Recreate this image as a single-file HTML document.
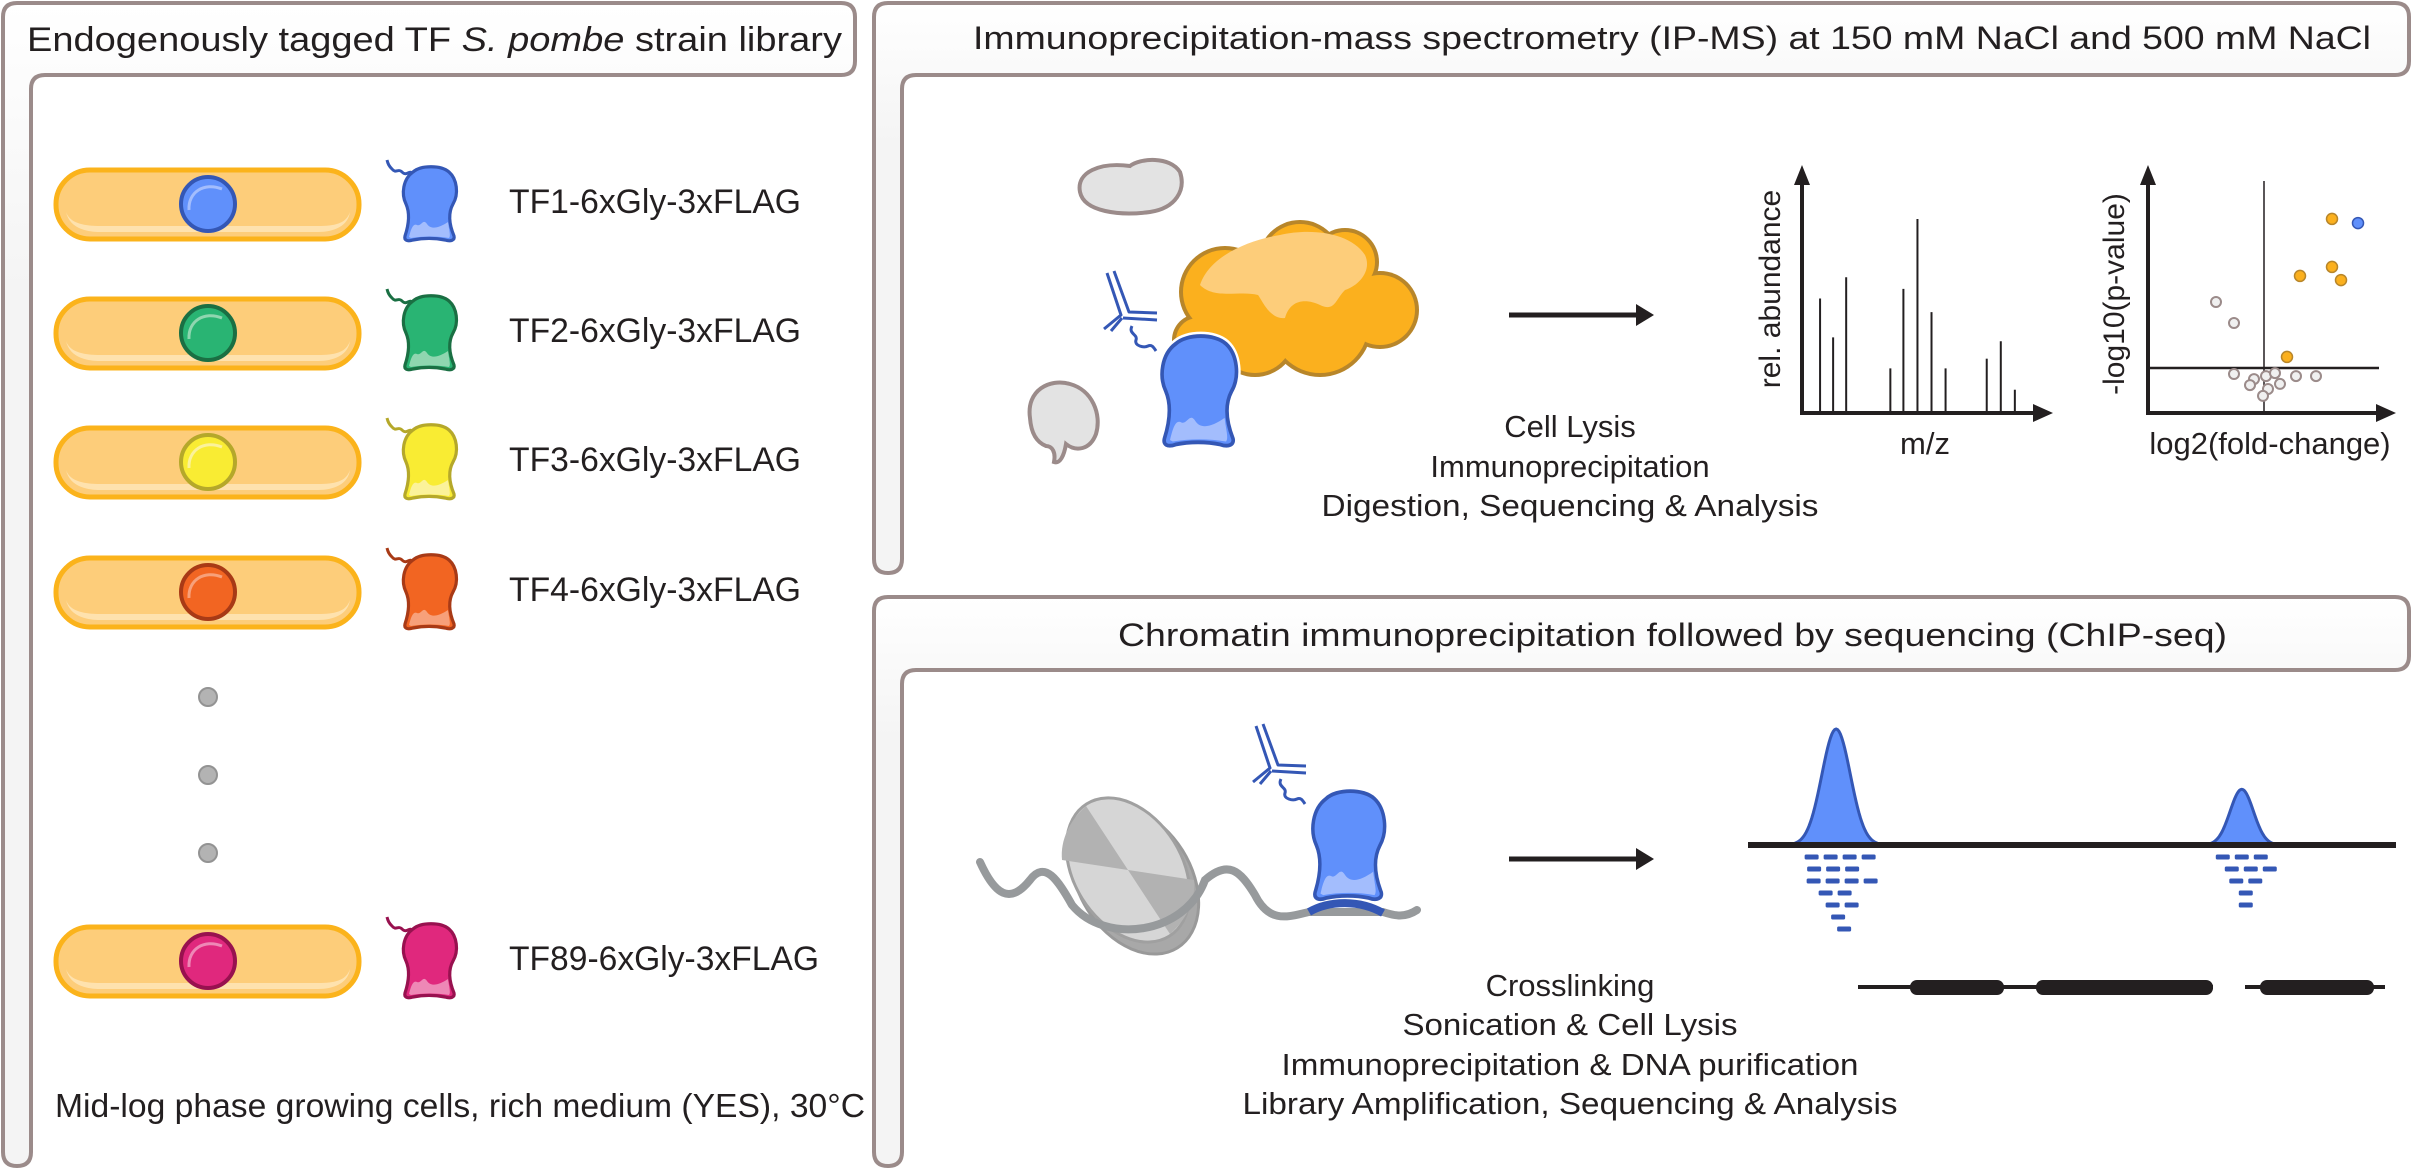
<!DOCTYPE html>
<html><head><meta charset="utf-8"><style>
html,body{margin:0;padding:0;background:#fff;}
svg{display:block;}
text{font-family:"Liberation Sans",Arial,sans-serif;fill:#231f20;}
</style></head><body>
<svg id="fig" width="2416" height="1171" viewBox="0 0 2416 1171" xmlns="http://www.w3.org/2000/svg">
<defs>
<linearGradient id="hdr" x1="0" y1="0" x2="0" y2="1"><stop offset="0" stop-color="#ffffff"/><stop offset="0.25" stop-color="#f4f4f4"/><stop offset="1" stop-color="#f4f4f4"/></linearGradient>
<path id="tfbody" d="M14,6 C22,-1 42,-1 50,6 C58,13 60,28 54,38 C49,47 50,58 55,70 C56,74 52,76 46,74 C36,72 24,72 14,74 C8,76 5,74 6,70 C10,58 11,47 7,38 C2,28 4,13 14,6 Z"/>
<path id="tfhl" d="M10,71 C12,63 14,57 18,59 C22,61 24,52 28,58 C32,64 40,62 49,56 C50,64 52,70 50,72 C38,70 24,70 12,72 Z"/>
<path id="tftail" d="M14,8 C10,3 8,11 3,6 C-1,2 -3,8 -7,3 C-10,0 -11,-2 -12,-6"/>
</defs>

<!-- Panels -->
<g>
<path d="M17,3 H841 Q855,3 855,17 V61 Q855,75 841,75 H45 Q31,75 31,89 V1152 Q31,1166 17,1166 Q3,1166 3,1152 V17 Q3,3 17,3 Z" fill="url(#hdr)" stroke="#9b8b8a" stroke-width="4"/>
<text x="27" y="51" font-size="34" textLength="815" lengthAdjust="spacingAndGlyphs">Endogenously tagged TF <tspan font-style="italic">S. pombe</tspan> strain library</text>
</g>
<g>
<path d="M888,3 H2395 Q2409,3 2409,17 V61 Q2409,75 2395,75 H916 Q902,75 902,89 V559 Q902,573 888,573 Q874,573 874,559 V17 Q874,3 888,3 Z" fill="url(#hdr)" stroke="#9b8b8a" stroke-width="4"/>
<text x="973" y="49" font-size="32" textLength="1398" lengthAdjust="spacingAndGlyphs">Immunoprecipitation-mass spectrometry (IP-MS) at 150 mM NaCl and 500 mM NaCl</text>
</g>
<g>
<path d="M888,597 H2395 Q2409,597 2409,611 V656 Q2409,670 2395,670 H916 Q902,670 902,684 V1152 Q902,1166 888,1166 Q874,1166 874,1152 V611 Q874,597 888,597 Z" fill="url(#hdr)" stroke="#9b8b8a" stroke-width="4"/>
<text x="1118" y="646" font-size="32" textLength="1109" lengthAdjust="spacingAndGlyphs">Chromatin immunoprecipitation followed by sequencing (ChIP-seq)</text>
</g>

<g id="cells"></g>
<g>
<circle cx="208" cy="697" r="9" fill="#b3b3b3" stroke="#939393" stroke-width="2"/>
<circle cx="208" cy="775" r="9" fill="#b3b3b3" stroke="#939393" stroke-width="2"/>
<circle cx="208" cy="853" r="9" fill="#b3b3b3" stroke="#939393" stroke-width="2"/>
</g>
<text x="55" y="1117" font-size="33" textLength="810" lengthAdjust="spacingAndGlyphs">Mid-log phase growing cells, rich medium (YES), 30°C</text>

<!-- IP-MS illustration -->
<g>
<g>
<path d="M1080,192 C1076,172 1100,162 1130,166 C1140,158 1170,156 1180,172 C1186,190 1176,208 1150,212 C1120,216 1084,212 1080,192 Z" fill="#e3e3e3" stroke="#9b8b8a" stroke-width="4"/>
</g>
<g>
<path d="M1030,418 C1026,390 1050,378 1070,384 C1092,390 1102,414 1096,434 C1090,450 1076,452 1066,444 C1064,456 1060,464 1054,462 C1056,452 1052,446 1046,446 C1036,442 1031,432 1030,418 Z" fill="#e3e3e3" stroke="#9b8b8a" stroke-width="4"/>
</g>
<g>
<g fill="#b8862a"><circle cx="1225" cy="292" r="46"/><circle cx="1300" cy="262" r="42"/><circle cx="1345" cy="262" r="34"/><circle cx="1380" cy="310" r="39"/><circle cx="1320" cy="325" r="52"/><circle cx="1255" cy="335" r="42"/><circle cx="1198" cy="340" r="26"/></g>
<g fill="#fbb01e"><circle cx="1225" cy="292" r="42"/><circle cx="1300" cy="262" r="38"/><circle cx="1345" cy="262" r="30"/><circle cx="1380" cy="310" r="35"/><circle cx="1320" cy="325" r="48"/><circle cx="1255" cy="335" r="38"/><circle cx="1198" cy="340" r="22"/></g>
<path d="M1200,285 C1210,255 1250,240 1280,235 C1310,228 1350,232 1365,255 C1372,270 1360,285 1345,290 C1335,300 1335,312 1320,305 C1305,298 1290,300 1285,318 C1270,320 1262,300 1258,295 C1240,290 1215,300 1200,285 Z" fill="#fdcd7a"/>
</g>
<g transform="translate(1156,335) scale(1.4,1.48)">
<use href="#tfbody" fill="none" stroke="#fff" stroke-width="6"/>
<use href="#tfbody" fill="#6090fb" stroke="#3457b5" stroke-width="2.6"/>
<use href="#tfhl" fill="#a3bdfd"/>
</g>
<g id="ab1"></g>
</g>
<g>
<line x1="1509" y1="315" x2="1640" y2="315" stroke="#231f20" stroke-width="5"/>
<polygon points="1654,315 1636,304 1636,326" fill="#231f20"/>
</g>
<g font-size="31" text-anchor="middle">
<text x="1570" y="437">Cell Lysis</text>
<text x="1570" y="477">Immunoprecipitation</text>
<text x="1570" y="516" textLength="497" lengthAdjust="spacingAndGlyphs">Digestion, Sequencing &amp; Analysis</text>
</g>

<g id="ms"></g>
<g id="volcano"></g>

<!-- ChIP illustration -->
<g>
<g>
<ellipse cx="1135" cy="880" rx="80" ry="56" transform="rotate(58 1135 880)" fill="#a8a8a8" stroke="#999" stroke-width="3"/>
<ellipse cx="1128" cy="870" rx="78" ry="54" transform="rotate(58 1128 870)" fill="#d6d6d6" stroke="#a0a0a0" stroke-width="3"/>
<path d="M1128,870 L1086,806 C1070,820 1060,840 1062,860 Z" fill="#b2b2b2"/>
<path d="M1128,870 L1170,934 C1186,920 1196,900 1194,880 Z" fill="#b2b2b2"/>
</g>
<path d="M980,862 C995,895 1010,905 1030,880 C1045,860 1058,880 1072,905 C1105,945 1185,935 1205,880 C1228,860 1240,870 1255,895 C1270,925 1290,916 1309,912 L1383,912 C1395,916 1405,918 1417,910" fill="none" stroke="#979a9c" stroke-width="8" stroke-linecap="round"/>
<path d="M1309,912 C1330,900 1360,900 1383,913" fill="none" stroke="#3457b5" stroke-width="8"/>
<g transform="translate(1307,790) scale(1.35,1.46)">
<use href="#tfbody" fill="#6090fb" stroke="#3457b5" stroke-width="2.6"/>
<use href="#tfhl" fill="#a3bdfd"/>
</g>
<g id="ab2"></g>
</g>
<g>
<line x1="1509" y1="859" x2="1640" y2="859" stroke="#231f20" stroke-width="5"/>
<polygon points="1654,859 1636,848 1636,870" fill="#231f20"/>
</g>
<g id="peaks"></g>
<g fill="#231f20">
<line x1="1858" y1="987" x2="2213" y2="987" stroke="#231f20" stroke-width="4"/>
<line x1="2245" y1="987" x2="2385" y2="987" stroke="#231f20" stroke-width="4"/>
<rect x="1910" y="980" width="94" height="15" rx="7"/>
<rect x="2036" y="980" width="177" height="15" rx="7"/>
<rect x="2260" y="980" width="114" height="15" rx="7"/>
</g>
<g font-size="31" text-anchor="middle">
<text x="1570" y="996">Crosslinking</text>
<text x="1570" y="1035" textLength="335" lengthAdjust="spacingAndGlyphs">Sonication &amp; Cell Lysis</text>
<text x="1570" y="1075" textLength="577" lengthAdjust="spacingAndGlyphs">Immunoprecipitation &amp; DNA purification</text>
<text x="1570" y="1114" textLength="655" lengthAdjust="spacingAndGlyphs">Library Amplification, Sequencing &amp; Analysis</text>
</g>
</svg>
<script>
// ---- strain library data ----
const strainLabels = ["TF1-6xGly-3xFLAG","TF2-6xGly-3xFLAG","TF3-6xGly-3xFLAG","TF4-6xGly-3xFLAG","TF89-6xGly-3xFLAG"];
const strainFill = ["#6090fb","#29b473","#f9ec33","#f26522","#e0287d"];
const strainStroke = ["#3457b5","#1a6f43","#b5a82a","#a83a16","#98114f"];
const strainLight = ["#a3bdfd","#8fd6b0","#fbf29a","#f7a07a","#ee88b6"];
// ---- mass spectrum data ----
const msMz = [18,31,44,88,101,115,129,143,184,198,212];
const msAbund = [59,39,70,23,64,100,52,23,28,37,12];
// ---- volcano data ----
const sigFC = [3.4,1.8,3.4,3.85,1.15];
const sigP = [6.47,4.57,4.87,4.43,1.87];
const baitFC = [4.7];
const baitP = [6.33];
const nsFC = [-2.4,-1.5,-1.5,-0.5,0.1,0.55,-0.7,0.8,1.6,2.6,0.2,-0.05];
const nsP = [3.7,3.0,1.3,1.13,1.23,1.33,0.93,0.97,1.23,1.23,0.8,0.57];
const pThreshold = [1.5];
// ---- ChIP data ----
const peakPos = [136,762];
const peakHeight = [100,48];
const peakWidth = [22,18];
const readRows1 = [4,3,4,2,2,1,1];
const readRows2 = [3,3,2,1,1];

const NS = "http://www.w3.org/2000/svg";
function mk(tag, attrs, parent){const e=document.createElementNS(NS,tag);for(const k in attrs)e.setAttribute(k,attrs[k]);if(parent)parent.appendChild(e);return e;}

// strains
const cells = document.getElementById("cells");
const rowY = [204,333,462,592,961];
strainLabels.forEach((lab,i)=>{
  const cy=rowY[i];
  const g=mk("g",{},cells);
  
  
  const cell=mk("rect",{x:56,y:cy-34,width:303,height:69,rx:34,fill:"#fdcd7a",stroke:"#fbb31b","stroke-width":5},g);
  
  
  mk("path",{d:`M66,${cy+8} C70,${cy+26} 90,${cy+28} 100,${cy+28} H318 C334,${cy+28} 348,${cy+22} 350,${cy+8} C346,${cy+20} 334,${cy+22} 318,${cy+22} H100 C86,${cy+22} 70,${cy+20} 66,${cy+8} Z`,fill:"#fee2ae"},g);
  const nuc=mk("circle",{cx:208,cy:cy,r:27,fill:strainFill[i],stroke:strainStroke[i],"stroke-width":4},g);
  
  
  mk("path",{d:`M189,${cy+6} C188,${cy-12} 204,${cy-22} 222,${cy-15}`,fill:"none",stroke:strainLight[i],"stroke-width":3},g);
  const tf=mk("g",{transform:`translate(399,${cy-38})`},g);
  
  
  mk("use",{href:"#tftail",fill:"none",stroke:strainStroke[i],"stroke-width":3},tf);
  mk("use",{href:"#tfbody",fill:strainFill[i],stroke:strainStroke[i],"stroke-width":3.2},tf);
  mk("use",{href:"#tfhl",fill:strainLight[i]},tf);
  const t=mk("text",{x:509,y:cy+9,"font-size":34,textLength:(i===4?310:292),lengthAdjust:"spacingAndGlyphs"},g);
  t.textContent=lab;
  
  
});

// antibodies
function antibody(id,x,y){
  const g=document.getElementById(id);
  const c="#3457b5";
  mk("path",{d:`M${x-3},${y+1} L${x+11},${y+43} L${x-6},${y+57} M${x+4},${y-1} L${x+19},${y+40} L${x+47},${y+41} M${x+13},${y+46} L${x+47},${y+48} M${x+12},${y+46} L${x+1},${y+59}`,fill:"none",stroke:c,"stroke-width":3,"stroke-linejoin":"round"},g);
  mk("path",{d:`M${x+22},${y+54} C${x+18},${y+62} ${x+28},${y+62} ${x+26},${y+68} C${x+24},${y+74} ${x+34},${y+76} ${x+38},${y+74} C${x+42},${y+72} ${x+44},${y+76} ${x+46},${y+79}`,fill:"none",stroke:c,"stroke-width":3},g);
}
antibody("ab1",1110,272);
antibody("ab2",1259,725);

// mass spectrum
(function(){
  const g=document.getElementById("ms");
  const x0=1802,y0=413,xTop=165,xEnd=2053;
  const xs=v=>x0+v*(251/250);
  const ys=v=>y0-v*1.94;
  msMz.forEach((m,i)=>{
    const l=mk("line",{x1:xs(m),x2:xs(m),y1:y0,y2:ys(msAbund[i]),stroke:"#231f20","stroke-width":2},g);
    
    
  });
  const ya=mk("line",{x1:x0,y1:y0+2,x2:x0,y2:xTop+14,stroke:"#231f20","stroke-width":4},g);
  
  
  mk("polygon",{points:`${x0},${xTop} ${x0-8},${xTop+20} ${x0+8},${xTop+20}`,fill:"#231f20"},g);
  const xa=mk("line",{x1:x0-2,y1:y0,x2:xEnd-14,y2:y0,stroke:"#231f20","stroke-width":4},g);
  
  
  mk("polygon",{points:`${xEnd},${y0} ${xEnd-20},${y0-9} ${xEnd-20},${y0+9}`,fill:"#231f20"},g);
  const yl=mk("text",{x:0,y:0,"font-size":30,"text-anchor":"middle",transform:`translate(1780,289) rotate(-90)`},g);
  yl.textContent="rel. abundance";
  
  
  const xl=mk("text",{x:1925,y:454,"font-size":31,"text-anchor":"middle"},g);
  xl.textContent="m/z";
  
  
})();

// volcano
(function(){
  const g=document.getElementById("volcano");
  const ax=2148,ay=413,top=165,end=2396,zx=2264;
  const xs=v=>zx+v*20;
  const ys=v=>ay-v*30;
  mk("line",{x1:zx,y1:181,x2:zx,y2:ay,stroke:"#231f20","stroke-width":1.5},g);
  const th=mk("line",{x1:ax,y1:ys(pThreshold[0]),x2:2379,y2:ys(pThreshold[0]),stroke:"#231f20","stroke-width":2.5},g);
  
  
  nsFC.forEach((f,i)=>{
    const c=mk("circle",{cx:xs(f),cy:ys(nsP[i]),r:5,fill:"#f0f0f0",stroke:"#9b8b8a","stroke-width":2},g);
    
    
  });
  sigFC.forEach((f,i)=>{
    const c=mk("circle",{cx:xs(f),cy:ys(sigP[i]),r:5.5,fill:"#fbb01e",stroke:"#b8862a","stroke-width":1.5},g);
    
    
  });
  baitFC.forEach((f,i)=>{
    const c=mk("circle",{cx:xs(f),cy:ys(baitP[i]),r:5.5,fill:"#6090fb",stroke:"#3457b5","stroke-width":1.5},g);
    
    
  });
  const ya=mk("line",{x1:ax,y1:ay+2,x2:ax,y2:top+14,stroke:"#231f20","stroke-width":4},g);
  
  
  mk("polygon",{points:`${ax},${top} ${ax-8},${top+20} ${ax+8},${top+20}`,fill:"#231f20"},g);
  const xa=mk("line",{x1:ax-2,y1:ay,x2:end-14,y2:ay,stroke:"#231f20","stroke-width":4},g);
  
  
  mk("polygon",{points:`${end},${ay} ${end-20},${ay-9} ${end-20},${ay+9}`,fill:"#231f20"},g);
  const yl=mk("text",{x:0,y:0,"font-size":30,"text-anchor":"middle",transform:`translate(2124,294) rotate(-90)`},g);
  yl.textContent="-log10(p-value)";
  
  
  const xl=mk("text",{x:2270,y:454,"font-size":31,"text-anchor":"middle"},g);
  xl.textContent="log2(fold-change)";
  
  
})();

// ChIP peaks
(function(){
  const g=document.getElementById("peaks");
  const gx0=1748,base=845;
  const xs=v=>gx0+v*0.648;
  const hs=v=>v*1.16;
  peakPos.forEach((p,i)=>{
    const sig=peakWidth[i]*0.648, h=hs(peakHeight[i]), cx=xs(p);
    let d=`M${cx-3.2*sig},${base}`;
    for(let k=-3.2;k<=3.2001;k+=0.1){d+=` L${cx+k*sig},${base-h*Math.exp(-k*k/2)}`;}
    d+=" Z";
    const pk=mk("path",{d:d,fill:"#6090fb",stroke:"#3457b5","stroke-width":3},g);
    
    
  });
  const gl=mk("line",{x1:gx0,y1:base,x2:2396,y2:base,stroke:"#231f20","stroke-width":6},g);
  
  
  function reads(rows,cx,startOff){
    rows.forEach((n,r)=>{
      const y=857+r*12;
      const w=n*14+(n-1)*5;
      const sx=cx-w/2+startOff[r];
      for(let j=0;j<n;j++){
        const rd=mk("rect",{x:sx+j*19,y:y-2.5,width:14,height:5,rx:1.5,fill:"#3457b5"},g);
        
        
      }
    });
  }
  reads(readRows1,xs(peakPos[0]),[4,-3,6,-1,6,2,8]);
  reads(readRows2,xs(peakPos[1]),[0,9,4,4,4]);
})();
</script>
</body></html>
